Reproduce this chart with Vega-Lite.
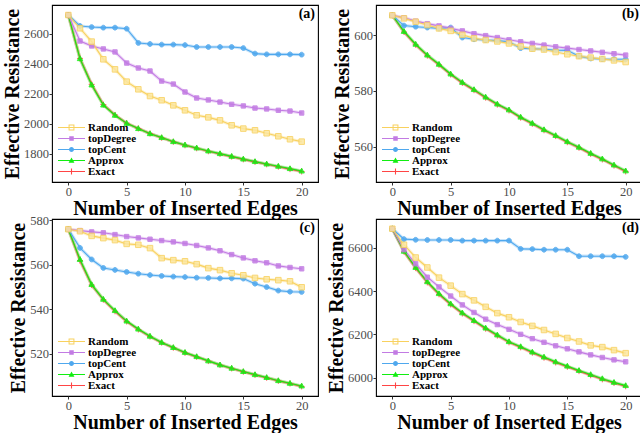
{
"$schema": "https://vega.github.io/schema/vega-lite/v6.json",
"padding": {"left": 1, "top": 4, "right": 0, "bottom": 0},
"config": {
  "font": "Liberation Serif",
  "view": {"stroke": "#000000", "strokeWidth": 1.1},
  "axis": {"grid": false, "domain": false, "format": "d", "tickColor": "#333333", "tickSize": 3, "tickWidth": 1, "labelFont": "Liberation Serif", "labelFontSize": 12.5, "labelColor": "#4D4D4D", "labelPadding": 0.5, "titleFont": "Liberation Serif", "titleFontSize": 20, "titleFontWeight": "bold", "titleColor": "#000000"},
  "axisX": {"titlePadding": 0},
  "axisY": {"titlePadding": 1},
  "legend": {"orient": "bottom-left", "offset": 5, "padding": 0, "labelFont": "Liberation Serif", "labelFontSize": 11, "labelFontWeight": "bold", "labelColor": "#000000", "symbolSize": 81, "symbolStrokeWidth": 0, "rowPadding": -1, "labelOffset": 20},
  "title": {"font": "Liberation Serif", "fontSize": 14, "fontWeight": "bold", "color": "#000000", "anchor": "end", "frame": "group", "offset": -16, "dx": -3}
},
"columns": 2,
"spacing": {"row": 37, "column": 58},
"bounds": "flush",
"resolve": {"scale": {"color": "independent", "fill": "independent", "stroke": "independent", "shape": "independent"}, "legend": {"color": "independent", "fill": "independent", "stroke": "independent", "shape": "independent"}},
"datasets": {
"a": [
{"m":"Exact","x":0,"y":2724},{"m":"Exact","x":1,"y":2435},{"m":"Exact","x":2,"y":2262},{"m":"Exact","x":3,"y":2127},{"m":"Exact","x":4,"y":2058},{"m":"Exact","x":5,"y":2003},{"m":"Exact","x":6,"y":1968},{"m":"Exact","x":7,"y":1934},{"m":"Exact","x":8,"y":1906},{"m":"Exact","x":9,"y":1879},{"m":"Exact","x":10,"y":1856},{"m":"Exact","x":11,"y":1836},{"m":"Exact","x":12,"y":1816},{"m":"Exact","x":13,"y":1798},{"m":"Exact","x":14,"y":1780},{"m":"Exact","x":15,"y":1762},{"m":"Exact","x":16,"y":1745},{"m":"Exact","x":17,"y":1729},{"m":"Exact","x":18,"y":1713},{"m":"Exact","x":19,"y":1697},{"m":"Exact","x":20,"y":1681},
{"m":"Approx","x":0,"y":2724},{"m":"Approx","x":1,"y":2433},{"m":"Approx","x":2,"y":2258},{"m":"Approx","x":3,"y":2124},{"m":"Approx","x":4,"y":2056},{"m":"Approx","x":5,"y":2002},{"m":"Approx","x":6,"y":1967},{"m":"Approx","x":7,"y":1933},{"m":"Approx","x":8,"y":1907},{"m":"Approx","x":9,"y":1880},{"m":"Approx","x":10,"y":1858},{"m":"Approx","x":11,"y":1838},{"m":"Approx","x":12,"y":1818},{"m":"Approx","x":13,"y":1800},{"m":"Approx","x":14,"y":1782},{"m":"Approx","x":15,"y":1764},{"m":"Approx","x":16,"y":1747},{"m":"Approx","x":17,"y":1731},{"m":"Approx","x":18,"y":1716},{"m":"Approx","x":19,"y":1700},{"m":"Approx","x":20,"y":1684},
{"m":"topCent","x":0,"y":2724},{"m":"topCent","x":1,"y":2651},{"m":"topCent","x":2,"y":2644},{"m":"topCent","x":3,"y":2640},{"m":"topCent","x":4,"y":2640},{"m":"topCent","x":5,"y":2633},{"m":"topCent","x":6,"y":2538},{"m":"topCent","x":7,"y":2531},{"m":"topCent","x":8,"y":2527},{"m":"topCent","x":9,"y":2527},{"m":"topCent","x":10,"y":2524},{"m":"topCent","x":11,"y":2511},{"m":"topCent","x":12,"y":2511},{"m":"topCent","x":13,"y":2511},{"m":"topCent","x":14,"y":2511},{"m":"topCent","x":15,"y":2504},{"m":"topCent","x":16,"y":2467},{"m":"topCent","x":17,"y":2462},{"m":"topCent","x":18,"y":2462},{"m":"topCent","x":19,"y":2462},{"m":"topCent","x":20,"y":2460},
{"m":"topDegree","x":0,"y":2724},{"m":"topDegree","x":1,"y":2551},{"m":"topDegree","x":2,"y":2518},{"m":"topDegree","x":3,"y":2498},{"m":"topDegree","x":4,"y":2478},{"m":"topDegree","x":5,"y":2404},{"m":"topDegree","x":6,"y":2371},{"m":"topDegree","x":7,"y":2351},{"m":"topDegree","x":8,"y":2284},{"m":"topDegree","x":9,"y":2264},{"m":"topDegree","x":10,"y":2211},{"m":"topDegree","x":11,"y":2171},{"m":"topDegree","x":12,"y":2158},{"m":"topDegree","x":13,"y":2144},{"m":"topDegree","x":14,"y":2129},{"m":"topDegree","x":15,"y":2118},{"m":"topDegree","x":16,"y":2104},{"m":"topDegree","x":17,"y":2098},{"m":"topDegree","x":18,"y":2089},{"m":"topDegree","x":19,"y":2084},{"m":"topDegree","x":20,"y":2071},
{"m":"Random","x":0,"y":2724},{"m":"Random","x":1,"y":2636},{"m":"Random","x":2,"y":2547},{"m":"Random","x":3,"y":2429},{"m":"Random","x":4,"y":2362},{"m":"Random","x":5,"y":2280},{"m":"Random","x":6,"y":2229},{"m":"Random","x":7,"y":2184},{"m":"Random","x":8,"y":2156},{"m":"Random","x":9,"y":2122},{"m":"Random","x":10,"y":2089},{"m":"Random","x":11,"y":2056},{"m":"Random","x":12,"y":2042},{"m":"Random","x":13,"y":2022},{"m":"Random","x":14,"y":1989},{"m":"Random","x":15,"y":1967},{"m":"Random","x":16,"y":1956},{"m":"Random","x":17,"y":1936},{"m":"Random","x":18,"y":1916},{"m":"Random","x":19,"y":1896},{"m":"Random","x":20,"y":1880}
],
"b": [
{"m":"Exact","x":0,"y":607.2},{"m":"Exact","x":1,"y":601.2},{"m":"Exact","x":2,"y":596.6},{"m":"Exact","x":3,"y":592.7},{"m":"Exact","x":4,"y":589.4},{"m":"Exact","x":5,"y":585.9},{"m":"Exact","x":6,"y":582.9},{"m":"Exact","x":7,"y":580.3},{"m":"Exact","x":8,"y":577.6},{"m":"Exact","x":9,"y":575.1},{"m":"Exact","x":10,"y":573.0},{"m":"Exact","x":11,"y":570.4},{"m":"Exact","x":12,"y":568.2},{"m":"Exact","x":13,"y":565.9},{"m":"Exact","x":14,"y":563.8},{"m":"Exact","x":15,"y":561.6},{"m":"Exact","x":16,"y":559.6},{"m":"Exact","x":17,"y":557.4},{"m":"Exact","x":18,"y":555.4},{"m":"Exact","x":19,"y":553.2},{"m":"Exact","x":20,"y":551.1},
{"m":"Approx","x":0,"y":607.2},{"m":"Approx","x":1,"y":601.4},{"m":"Approx","x":2,"y":596.8},{"m":"Approx","x":3,"y":592.9},{"m":"Approx","x":4,"y":589.6},{"m":"Approx","x":5,"y":586.1},{"m":"Approx","x":6,"y":583.1},{"m":"Approx","x":7,"y":580.5},{"m":"Approx","x":8,"y":577.8},{"m":"Approx","x":9,"y":575.3},{"m":"Approx","x":10,"y":573.2},{"m":"Approx","x":11,"y":570.6},{"m":"Approx","x":12,"y":568.4},{"m":"Approx","x":13,"y":566.1},{"m":"Approx","x":14,"y":564.0},{"m":"Approx","x":15,"y":561.8},{"m":"Approx","x":16,"y":559.8},{"m":"Approx","x":17,"y":557.6},{"m":"Approx","x":18,"y":555.6},{"m":"Approx","x":19,"y":553.4},{"m":"Approx","x":20,"y":551.3},
{"m":"topCent","x":0,"y":607.2},{"m":"topCent","x":1,"y":603.5},{"m":"topCent","x":2,"y":603.1},{"m":"topCent","x":3,"y":602.8},{"m":"topCent","x":4,"y":602.5},{"m":"topCent","x":5,"y":602.8},{"m":"topCent","x":6,"y":599.2},{"m":"topCent","x":7,"y":598.6},{"m":"topCent","x":8,"y":598.3},{"m":"topCent","x":9,"y":598.1},{"m":"topCent","x":10,"y":597.7},{"m":"topCent","x":11,"y":595.4},{"m":"topCent","x":12,"y":595.2},{"m":"topCent","x":13,"y":595.0},{"m":"topCent","x":14,"y":594.7},{"m":"topCent","x":15,"y":594.6},{"m":"topCent","x":16,"y":592.5},{"m":"topCent","x":17,"y":591.7},{"m":"topCent","x":18,"y":591.5},{"m":"topCent","x":19,"y":591.4},{"m":"topCent","x":20,"y":591.4},
{"m":"topDegree","x":0,"y":607.2},{"m":"topDegree","x":1,"y":606.3},{"m":"topDegree","x":2,"y":605.1},{"m":"topDegree","x":3,"y":604.2},{"m":"topDegree","x":4,"y":603.4},{"m":"topDegree","x":5,"y":602.5},{"m":"topDegree","x":6,"y":601.6},{"m":"topDegree","x":7,"y":600.6},{"m":"topDegree","x":8,"y":599.9},{"m":"topDegree","x":9,"y":599.2},{"m":"topDegree","x":10,"y":598.4},{"m":"topDegree","x":11,"y":597.7},{"m":"topDegree","x":12,"y":597.1},{"m":"topDegree","x":13,"y":596.5},{"m":"topDegree","x":14,"y":595.9},{"m":"topDegree","x":15,"y":595.4},{"m":"topDegree","x":16,"y":594.9},{"m":"topDegree","x":17,"y":594.4},{"m":"topDegree","x":18,"y":593.9},{"m":"topDegree","x":19,"y":593.4},{"m":"topDegree","x":20,"y":592.9},
{"m":"Random","x":0,"y":607.2},{"m":"Random","x":1,"y":606.1},{"m":"Random","x":2,"y":604.9},{"m":"Random","x":3,"y":603.7},{"m":"Random","x":4,"y":602.5},{"m":"Random","x":5,"y":601.6},{"m":"Random","x":6,"y":600.2},{"m":"Random","x":7,"y":598.9},{"m":"Random","x":8,"y":598.3},{"m":"Random","x":9,"y":597.8},{"m":"Random","x":10,"y":597.1},{"m":"Random","x":11,"y":596.0},{"m":"Random","x":12,"y":595.2},{"m":"Random","x":13,"y":594.9},{"m":"Random","x":14,"y":594.0},{"m":"Random","x":15,"y":593.2},{"m":"Random","x":16,"y":592.5},{"m":"Random","x":17,"y":592.0},{"m":"Random","x":18,"y":591.5},{"m":"Random","x":19,"y":591.0},{"m":"Random","x":20,"y":590.4}
],
"c": [
{"m":"Exact","x":0,"y":575.9},{"m":"Exact","x":1,"y":561.8},{"m":"Exact","x":2,"y":550.8},{"m":"Exact","x":3,"y":544.2},{"m":"Exact","x":4,"y":539.0},{"m":"Exact","x":5,"y":534.4},{"m":"Exact","x":6,"y":530.8},{"m":"Exact","x":7,"y":527.6},{"m":"Exact","x":8,"y":524.9},{"m":"Exact","x":9,"y":522.6},{"m":"Exact","x":10,"y":520.3},{"m":"Exact","x":11,"y":518.5},{"m":"Exact","x":12,"y":516.6},{"m":"Exact","x":13,"y":514.8},{"m":"Exact","x":14,"y":513.3},{"m":"Exact","x":15,"y":511.8},{"m":"Exact","x":16,"y":510.4},{"m":"Exact","x":17,"y":509.1},{"m":"Exact","x":18,"y":507.7},{"m":"Exact","x":19,"y":506.5},{"m":"Exact","x":20,"y":505.2},
{"m":"Approx","x":0,"y":575.9},{"m":"Approx","x":1,"y":562.3},{"m":"Approx","x":2,"y":551.0},{"m":"Approx","x":3,"y":544.4},{"m":"Approx","x":4,"y":539.3},{"m":"Approx","x":5,"y":534.6},{"m":"Approx","x":6,"y":531.0},{"m":"Approx","x":7,"y":527.8},{"m":"Approx","x":8,"y":525.0},{"m":"Approx","x":9,"y":522.7},{"m":"Approx","x":10,"y":520.5},{"m":"Approx","x":11,"y":518.6},{"m":"Approx","x":12,"y":516.7},{"m":"Approx","x":13,"y":514.9},{"m":"Approx","x":14,"y":513.4},{"m":"Approx","x":15,"y":511.9},{"m":"Approx","x":16,"y":510.5},{"m":"Approx","x":17,"y":509.2},{"m":"Approx","x":18,"y":507.8},{"m":"Approx","x":19,"y":506.6},{"m":"Approx","x":20,"y":505.4},
{"m":"topCent","x":0,"y":575.9},{"m":"topCent","x":1,"y":567.5},{"m":"topCent","x":2,"y":562.3},{"m":"topCent","x":3,"y":558.5},{"m":"topCent","x":4,"y":557.6},{"m":"topCent","x":5,"y":556.7},{"m":"topCent","x":6,"y":555.9},{"m":"topCent","x":7,"y":555.3},{"m":"topCent","x":8,"y":554.9},{"m":"topCent","x":9,"y":554.6},{"m":"topCent","x":10,"y":554.4},{"m":"topCent","x":11,"y":554.1},{"m":"topCent","x":12,"y":554.0},{"m":"topCent","x":13,"y":553.8},{"m":"topCent","x":14,"y":553.8},{"m":"topCent","x":15,"y":553.7},{"m":"topCent","x":16,"y":551.4},{"m":"topCent","x":17,"y":549.9},{"m":"topCent","x":18,"y":548.3},{"m":"topCent","x":19,"y":547.8},{"m":"topCent","x":20,"y":547.7},
{"m":"topDegree","x":0,"y":575.9},{"m":"topDegree","x":1,"y":575.3},{"m":"topDegree","x":2,"y":574.7},{"m":"topDegree","x":3,"y":574.3},{"m":"topDegree","x":4,"y":573.5},{"m":"topDegree","x":5,"y":572.6},{"m":"topDegree","x":6,"y":572.0},{"m":"topDegree","x":7,"y":571.4},{"m":"topDegree","x":8,"y":570.8},{"m":"topDegree","x":9,"y":570.2},{"m":"topDegree","x":10,"y":569.5},{"m":"topDegree","x":11,"y":568.6},{"m":"topDegree","x":12,"y":567.5},{"m":"topDegree","x":13,"y":566.2},{"m":"topDegree","x":14,"y":564.5},{"m":"topDegree","x":15,"y":563.0},{"m":"topDegree","x":16,"y":561.7},{"m":"topDegree","x":17,"y":560.8},{"m":"topDegree","x":18,"y":559.4},{"m":"topDegree","x":19,"y":558.7},{"m":"topDegree","x":20,"y":558.1},
{"m":"Random","x":0,"y":575.9},{"m":"Random","x":1,"y":575.0},{"m":"Random","x":2,"y":572.9},{"m":"Random","x":3,"y":571.9},{"m":"Random","x":4,"y":571.0},{"m":"Random","x":5,"y":569.3},{"m":"Random","x":6,"y":568.9},{"m":"Random","x":7,"y":567.4},{"m":"Random","x":8,"y":562.9},{"m":"Random","x":9,"y":562.0},{"m":"Random","x":10,"y":561.5},{"m":"Random","x":11,"y":560.2},{"m":"Random","x":12,"y":558.4},{"m":"Random","x":13,"y":557.5},{"m":"Random","x":14,"y":556.1},{"m":"Random","x":15,"y":555.2},{"m":"Random","x":16,"y":554.0},{"m":"Random","x":17,"y":553.4},{"m":"Random","x":18,"y":553.0},{"m":"Random","x":19,"y":552.5},{"m":"Random","x":20,"y":549.8}
],
"d": [
{"m":"Exact","x":0,"y":6688},{"m":"Exact","x":1,"y":6582},{"m":"Exact","x":2,"y":6506},{"m":"Exact","x":3,"y":6440},{"m":"Exact","x":4,"y":6385},{"m":"Exact","x":5,"y":6338},{"m":"Exact","x":6,"y":6296},{"m":"Exact","x":7,"y":6261},{"m":"Exact","x":8,"y":6226},{"m":"Exact","x":9,"y":6194},{"m":"Exact","x":10,"y":6163},{"m":"Exact","x":11,"y":6140},{"m":"Exact","x":12,"y":6115},{"m":"Exact","x":13,"y":6092},{"m":"Exact","x":14,"y":6070},{"m":"Exact","x":15,"y":6050},{"m":"Exact","x":16,"y":6030},{"m":"Exact","x":17,"y":6011},{"m":"Exact","x":18,"y":5992},{"m":"Exact","x":19,"y":5975},{"m":"Exact","x":20,"y":5960},
{"m":"Approx","x":0,"y":6688},{"m":"Approx","x":1,"y":6584},{"m":"Approx","x":2,"y":6509},{"m":"Approx","x":3,"y":6443},{"m":"Approx","x":4,"y":6388},{"m":"Approx","x":5,"y":6341},{"m":"Approx","x":6,"y":6299},{"m":"Approx","x":7,"y":6264},{"m":"Approx","x":8,"y":6229},{"m":"Approx","x":9,"y":6197},{"m":"Approx","x":10,"y":6166},{"m":"Approx","x":11,"y":6143},{"m":"Approx","x":12,"y":6118},{"m":"Approx","x":13,"y":6095},{"m":"Approx","x":14,"y":6073},{"m":"Approx","x":15,"y":6053},{"m":"Approx","x":16,"y":6033},{"m":"Approx","x":17,"y":6014},{"m":"Approx","x":18,"y":5995},{"m":"Approx","x":19,"y":5978},{"m":"Approx","x":20,"y":5963},
{"m":"topCent","x":0,"y":6688},{"m":"topCent","x":1,"y":6640},{"m":"topCent","x":2,"y":6637},{"m":"topCent","x":3,"y":6636},{"m":"topCent","x":4,"y":6636},{"m":"topCent","x":5,"y":6636},{"m":"topCent","x":6,"y":6633},{"m":"topCent","x":7,"y":6633},{"m":"topCent","x":8,"y":6633},{"m":"topCent","x":9,"y":6633},{"m":"topCent","x":10,"y":6633},{"m":"topCent","x":11,"y":6595},{"m":"topCent","x":12,"y":6594},{"m":"topCent","x":13,"y":6591},{"m":"topCent","x":14,"y":6591},{"m":"topCent","x":15,"y":6591},{"m":"topCent","x":16,"y":6561},{"m":"topCent","x":17,"y":6561},{"m":"topCent","x":18,"y":6561},{"m":"topCent","x":19,"y":6561},{"m":"topCent","x":20,"y":6558},
{"m":"topDegree","x":0,"y":6688},{"m":"topDegree","x":1,"y":6591},{"m":"topDegree","x":2,"y":6526},{"m":"topDegree","x":3,"y":6464},{"m":"topDegree","x":4,"y":6419},{"m":"topDegree","x":5,"y":6377},{"m":"topDegree","x":6,"y":6336},{"m":"topDegree","x":7,"y":6301},{"m":"topDegree","x":8,"y":6270},{"m":"topDegree","x":9,"y":6245},{"m":"topDegree","x":10,"y":6223},{"m":"topDegree","x":11,"y":6200},{"m":"topDegree","x":12,"y":6180},{"m":"topDegree","x":13,"y":6163},{"m":"topDegree","x":14,"y":6147},{"m":"topDegree","x":15,"y":6133},{"m":"topDegree","x":16,"y":6119},{"m":"topDegree","x":17,"y":6105},{"m":"topDegree","x":18,"y":6093},{"m":"topDegree","x":19,"y":6082},{"m":"topDegree","x":20,"y":6073},
{"m":"Random","x":0,"y":6688},{"m":"Random","x":1,"y":6614},{"m":"Random","x":2,"y":6555},{"m":"Random","x":3,"y":6509},{"m":"Random","x":4,"y":6462},{"m":"Random","x":5,"y":6425},{"m":"Random","x":6,"y":6386},{"m":"Random","x":7,"y":6357},{"m":"Random","x":8,"y":6327},{"m":"Random","x":9,"y":6298},{"m":"Random","x":10,"y":6279},{"m":"Random","x":11,"y":6257},{"m":"Random","x":12,"y":6239},{"m":"Random","x":13,"y":6220},{"m":"Random","x":14,"y":6202},{"m":"Random","x":15,"y":6183},{"m":"Random","x":16,"y":6167},{"m":"Random","x":17,"y":6149},{"m":"Random","x":18,"y":6141},{"m":"Random","x":19,"y":6127},{"m":"Random","x":20,"y":6113}
]
},
"concat": [
{
 "width": 266, "height": 177,
 "data": {"name": "a"},
 "title": {"text": "(a)"},
 "encoding": {
  "x": {"field": "x", "type": "quantitative", "scale": {"domain": [-1.4, 21.4], "nice": false, "zero": false}, "axis": {"values": [0,5,10,15,20], "title": "Number of Inserted Edges"}},
  "y": {"field": "y", "type": "quantitative", "scale": {"domain": [1611, 2791], "nice": false, "zero": false}, "axis": {"values": [1800,2000,2200,2400,2600], "title": "Effective Resistance"}}
 },
 "resolve": {"scale": {"color": "independent", "fill": "independent", "stroke": "independent", "shape": "independent"}},
 "layer": [
  {"mark": {"type": "line", "strokeWidth": 3.2, "strokeOpacity": 0.3}, "encoding": {"stroke": {"field": "m", "type": "nominal", "scale": {"domain": ["Random","topDegree","topCent","Approx","Exact"], "range": ["#F8D15E","#C27BE3","#4FA8EE","#11EE11","#FF4545"]}, "legend": null}}},
  {"mark": {"type": "line", "strokeWidth": 1.1}, "encoding": {"stroke": {"field": "m", "type": "nominal", "scale": {"domain": ["Random","topDegree","topCent","Approx","Exact"], "range": ["#F8D15E","#C27BE3","#4FA8EE","#11EE11","#FF4545"]}, "legend": null}}},
  {"mark": {"type": "point", "filled": true, "strokeWidth": 1, "opacity": 0.85, "size": 36},
   "encoding": {
    "fill": {"field": "m", "type": "nominal", "scale": {"domain": ["Random","topDegree","topCent","Approx","Exact"], "range": ["#FCE7A0","#C27BE3","#4FA8EE","#11EE11","#FF4545"]}, "legend": null},
    "stroke": {"field": "m", "type": "nominal", "scale": {"domain": ["Random","topDegree","topCent","Approx","Exact"], "range": ["#F8D15E","#C27BE3","#4FA8EE","#11EE11","#FF4545"]}, "legend": null},
    "shape": {"field": "m", "type": "nominal", "scale": {"domain": ["Random","topDegree","topCent","Approx","Exact"], "range": ["M-0.92,-0.92H0.92V0.92H-0.92Z","M-0.73,-0.73H0.73V0.73H-0.73Z","M0.8,0A0.8,0.8,0,1,1,-0.8,0A0.8,0.8,0,1,1,0.8,0Z","M0,-0.95L0.9,0.65L-0.9,0.65Z","M-1,0H1M0,-1V1"]}, "legend": null}
   }},
  {"transform": [{"filter": "datum.x < 0"}],
   "mark": {"type": "point", "filled": true, "strokeWidth": 0, "opacity": 1, "size": 81},
   "encoding": {
    "color": {"field": "m", "type": "nominal", "title": null, "scale": {"domain": ["Random","topDegree","topCent","Approx","Exact"], "range": ["#F8D15E","#C27BE3","#4FA8EE","#11EE11","#FF4545"]}},
    "shape": {"field": "m", "type": "nominal", "title": null, "scale": {"domain": ["Random","topDegree","topCent","Approx","Exact"], "range": ["M-1,-0.12H5V0.12H-1ZM1.35,-0.65H2.65V0.65H1.35ZM1.57,-0.43V0.43H2.43V-0.43Z","M-1,-0.12H5V0.12H-1ZM1.5,-0.52H2.5V0.52H1.5Z","M-1,-0.12H5V0.12H-1ZM2.55,0A0.55,0.55,0,1,1,1.45,0A0.55,0.55,0,1,1,2.55,0Z","M-1,-0.12H5V0.12H-1ZM2,-0.65L2.65,0.5L1.35,0.5Z","M-1,-0.12H5V0.12H-1ZM1.88,-0.65H2.12V0.65H1.88Z"]}}
   }}
 ]
},
{
 "width": 266, "height": 177,
 "data": {"name": "b"},
 "title": {"text": "(b)"},
 "encoding": {
  "x": {"field": "x", "type": "quantitative", "scale": {"domain": [-1.4, 21.4], "nice": false, "zero": false}, "axis": {"values": [0,5,10,15,20], "title": "Number of Inserted Edges"}},
  "y": {"field": "y", "type": "quantitative", "scale": {"domain": [547.3, 610.9], "nice": false, "zero": false}, "axis": {"values": [560,580,600], "title": "Effective Resistance"}}
 },
 "resolve": {"scale": {"color": "independent", "fill": "independent", "stroke": "independent", "shape": "independent"}},
 "layer": [
  {"mark": {"type": "line", "strokeWidth": 3.2, "strokeOpacity": 0.3}, "encoding": {"stroke": {"field": "m", "type": "nominal", "scale": {"domain": ["Random","topDegree","topCent","Approx","Exact"], "range": ["#F8D15E","#C27BE3","#4FA8EE","#11EE11","#FF4545"]}, "legend": null}}},
  {"mark": {"type": "line", "strokeWidth": 1.1}, "encoding": {"stroke": {"field": "m", "type": "nominal", "scale": {"domain": ["Random","topDegree","topCent","Approx","Exact"], "range": ["#F8D15E","#C27BE3","#4FA8EE","#11EE11","#FF4545"]}, "legend": null}}},
  {"mark": {"type": "point", "filled": true, "strokeWidth": 1, "opacity": 0.85, "size": 36},
   "encoding": {
    "fill": {"field": "m", "type": "nominal", "scale": {"domain": ["Random","topDegree","topCent","Approx","Exact"], "range": ["#FCE7A0","#C27BE3","#4FA8EE","#11EE11","#FF4545"]}, "legend": null},
    "stroke": {"field": "m", "type": "nominal", "scale": {"domain": ["Random","topDegree","topCent","Approx","Exact"], "range": ["#F8D15E","#C27BE3","#4FA8EE","#11EE11","#FF4545"]}, "legend": null},
    "shape": {"field": "m", "type": "nominal", "scale": {"domain": ["Random","topDegree","topCent","Approx","Exact"], "range": ["M-0.92,-0.92H0.92V0.92H-0.92Z","M-0.73,-0.73H0.73V0.73H-0.73Z","M0.8,0A0.8,0.8,0,1,1,-0.8,0A0.8,0.8,0,1,1,0.8,0Z","M0,-0.95L0.9,0.65L-0.9,0.65Z","M-1,0H1M0,-1V1"]}, "legend": null}
   }},
  {"transform": [{"filter": "datum.x < 0"}],
   "mark": {"type": "point", "filled": true, "strokeWidth": 0, "opacity": 1, "size": 81},
   "encoding": {
    "color": {"field": "m", "type": "nominal", "title": null, "scale": {"domain": ["Random","topDegree","topCent","Approx","Exact"], "range": ["#F8D15E","#C27BE3","#4FA8EE","#11EE11","#FF4545"]}},
    "shape": {"field": "m", "type": "nominal", "title": null, "scale": {"domain": ["Random","topDegree","topCent","Approx","Exact"], "range": ["M-1,-0.12H5V0.12H-1ZM1.35,-0.65H2.65V0.65H1.35ZM1.57,-0.43V0.43H2.43V-0.43Z","M-1,-0.12H5V0.12H-1ZM1.5,-0.52H2.5V0.52H1.5Z","M-1,-0.12H5V0.12H-1ZM2.55,0A0.55,0.55,0,1,1,1.45,0A0.55,0.55,0,1,1,2.55,0Z","M-1,-0.12H5V0.12H-1ZM2,-0.65L2.65,0.5L1.35,0.5Z","M-1,-0.12H5V0.12H-1ZM1.88,-0.65H2.12V0.65H1.88Z"]}}
   }}
 ]
},
{
 "width": 266, "height": 177,
 "data": {"name": "c"},
 "title": {"text": "(c)", "offset": -21},
 "encoding": {
  "x": {"field": "x", "type": "quantitative", "scale": {"domain": [-1.4, 21.4], "nice": false, "zero": false}, "axis": {"values": [0,5,10,15,20], "title": "Number of Inserted Edges"}},
  "y": {"field": "y", "type": "quantitative", "scale": {"domain": [500.9, 580.5], "nice": false, "zero": false}, "axis": {"values": [520,540,560,580], "title": "Effective Resistance"}}
 },
 "resolve": {"scale": {"color": "independent", "fill": "independent", "stroke": "independent", "shape": "independent"}},
 "layer": [
  {"mark": {"type": "line", "strokeWidth": 3.2, "strokeOpacity": 0.3}, "encoding": {"stroke": {"field": "m", "type": "nominal", "scale": {"domain": ["Random","topDegree","topCent","Approx","Exact"], "range": ["#F8D15E","#C27BE3","#4FA8EE","#11EE11","#FF4545"]}, "legend": null}}},
  {"mark": {"type": "line", "strokeWidth": 1.1}, "encoding": {"stroke": {"field": "m", "type": "nominal", "scale": {"domain": ["Random","topDegree","topCent","Approx","Exact"], "range": ["#F8D15E","#C27BE3","#4FA8EE","#11EE11","#FF4545"]}, "legend": null}}},
  {"mark": {"type": "point", "filled": true, "strokeWidth": 1, "opacity": 0.85, "size": 36},
   "encoding": {
    "fill": {"field": "m", "type": "nominal", "scale": {"domain": ["Random","topDegree","topCent","Approx","Exact"], "range": ["#FCE7A0","#C27BE3","#4FA8EE","#11EE11","#FF4545"]}, "legend": null},
    "stroke": {"field": "m", "type": "nominal", "scale": {"domain": ["Random","topDegree","topCent","Approx","Exact"], "range": ["#F8D15E","#C27BE3","#4FA8EE","#11EE11","#FF4545"]}, "legend": null},
    "shape": {"field": "m", "type": "nominal", "scale": {"domain": ["Random","topDegree","topCent","Approx","Exact"], "range": ["M-0.92,-0.92H0.92V0.92H-0.92Z","M-0.73,-0.73H0.73V0.73H-0.73Z","M0.8,0A0.8,0.8,0,1,1,-0.8,0A0.8,0.8,0,1,1,0.8,0Z","M0,-0.95L0.9,0.65L-0.9,0.65Z","M-1,0H1M0,-1V1"]}, "legend": null}
   }},
  {"transform": [{"filter": "datum.x < 0"}],
   "mark": {"type": "point", "filled": true, "strokeWidth": 0, "opacity": 1, "size": 81},
   "encoding": {
    "color": {"field": "m", "type": "nominal", "title": null, "scale": {"domain": ["Random","topDegree","topCent","Approx","Exact"], "range": ["#F8D15E","#C27BE3","#4FA8EE","#11EE11","#FF4545"]}},
    "shape": {"field": "m", "type": "nominal", "title": null, "scale": {"domain": ["Random","topDegree","topCent","Approx","Exact"], "range": ["M-1,-0.12H5V0.12H-1ZM1.35,-0.65H2.65V0.65H1.35ZM1.57,-0.43V0.43H2.43V-0.43Z","M-1,-0.12H5V0.12H-1ZM1.5,-0.52H2.5V0.52H1.5Z","M-1,-0.12H5V0.12H-1ZM2.55,0A0.55,0.55,0,1,1,1.45,0A0.55,0.55,0,1,1,2.55,0Z","M-1,-0.12H5V0.12H-1ZM2,-0.65L2.65,0.5L1.35,0.5Z","M-1,-0.12H5V0.12H-1ZM1.88,-0.65H2.12V0.65H1.88Z"]}}
   }}
 ]
},
{
 "width": 266, "height": 177,
 "data": {"name": "d"},
 "title": {"text": "(d)"},
 "encoding": {
  "x": {"field": "x", "type": "quantitative", "scale": {"domain": [-1.4, 21.4], "nice": false, "zero": false}, "axis": {"values": [0,5,10,15,20], "title": "Number of Inserted Edges"}},
  "y": {"field": "y", "type": "quantitative", "scale": {"domain": [5915, 6733], "nice": false, "zero": false}, "axis": {"values": [6000,6200,6400,6600], "title": "Effective Resistance"}}
 },
 "resolve": {"scale": {"color": "independent", "fill": "independent", "stroke": "independent", "shape": "independent"}},
 "layer": [
  {"mark": {"type": "line", "strokeWidth": 3.2, "strokeOpacity": 0.3}, "encoding": {"stroke": {"field": "m", "type": "nominal", "scale": {"domain": ["Random","topDegree","topCent","Approx","Exact"], "range": ["#F8D15E","#C27BE3","#4FA8EE","#11EE11","#FF4545"]}, "legend": null}}},
  {"mark": {"type": "line", "strokeWidth": 1.1}, "encoding": {"stroke": {"field": "m", "type": "nominal", "scale": {"domain": ["Random","topDegree","topCent","Approx","Exact"], "range": ["#F8D15E","#C27BE3","#4FA8EE","#11EE11","#FF4545"]}, "legend": null}}},
  {"mark": {"type": "point", "filled": true, "strokeWidth": 1, "opacity": 0.85, "size": 36},
   "encoding": {
    "fill": {"field": "m", "type": "nominal", "scale": {"domain": ["Random","topDegree","topCent","Approx","Exact"], "range": ["#FCE7A0","#C27BE3","#4FA8EE","#11EE11","#FF4545"]}, "legend": null},
    "stroke": {"field": "m", "type": "nominal", "scale": {"domain": ["Random","topDegree","topCent","Approx","Exact"], "range": ["#F8D15E","#C27BE3","#4FA8EE","#11EE11","#FF4545"]}, "legend": null},
    "shape": {"field": "m", "type": "nominal", "scale": {"domain": ["Random","topDegree","topCent","Approx","Exact"], "range": ["M-0.92,-0.92H0.92V0.92H-0.92Z","M-0.73,-0.73H0.73V0.73H-0.73Z","M0.8,0A0.8,0.8,0,1,1,-0.8,0A0.8,0.8,0,1,1,0.8,0Z","M0,-0.95L0.9,0.65L-0.9,0.65Z","M-1,0H1M0,-1V1"]}, "legend": null}
   }},
  {"transform": [{"filter": "datum.x < 0"}],
   "mark": {"type": "point", "filled": true, "strokeWidth": 0, "opacity": 1, "size": 81},
   "encoding": {
    "color": {"field": "m", "type": "nominal", "title": null, "scale": {"domain": ["Random","topDegree","topCent","Approx","Exact"], "range": ["#F8D15E","#C27BE3","#4FA8EE","#11EE11","#FF4545"]}},
    "shape": {"field": "m", "type": "nominal", "title": null, "scale": {"domain": ["Random","topDegree","topCent","Approx","Exact"], "range": ["M-1,-0.12H5V0.12H-1ZM1.35,-0.65H2.65V0.65H1.35ZM1.57,-0.43V0.43H2.43V-0.43Z","M-1,-0.12H5V0.12H-1ZM1.5,-0.52H2.5V0.52H1.5Z","M-1,-0.12H5V0.12H-1ZM2.55,0A0.55,0.55,0,1,1,1.45,0A0.55,0.55,0,1,1,2.55,0Z","M-1,-0.12H5V0.12H-1ZM2,-0.65L2.65,0.5L1.35,0.5Z","M-1,-0.12H5V0.12H-1ZM1.88,-0.65H2.12V0.65H1.88Z"]}}
   }}
 ]
}
]
}
